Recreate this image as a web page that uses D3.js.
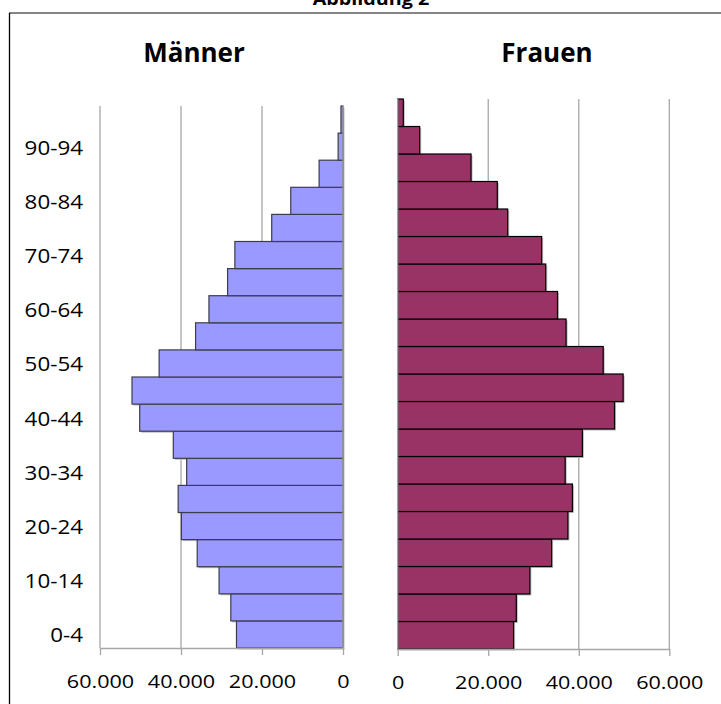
<!DOCTYPE html>
<html>
<head>
<meta charset="utf-8">
<script src="https://cdn.jsdelivr.net/npm/d3@7"></script>
<style>
  html, body { margin: 0; padding: 0; background: #fff; }
  svg { display: block; font-family: "Open Sans", "Noto Sans", sans-serif; }
</style>
</head>
<body>
<svg id="chart" width="721" height="704"></svg>
<script>
// Altersgruppen von unten nach oben
const ageGroups = ["0-4","5-9","10-14","15-19","20-24","25-29","30-34","35-39","40-44","45-49",
                   "50-54","55-59","60-64","65-69","70-74","75-79","80-84","85-89","90-94","95+"];
// Bevölkerung je Altersgruppe
const maenner = [26300, 27700, 30600, 36000, 39900, 40700, 38600, 41900, 50200, 52100,
                 45400, 36400, 33100, 28500, 26700, 17600, 12900, 5900, 1200, 500];
const frauen  = [25600, 26200, 29200, 34000, 37600, 38600, 37000, 40800, 47900, 49800,
                 45400, 37200, 35300, 32700, 31800, 24300, 22000, 16200, 4860, 1240];
// Beschriftete Altersgruppen und Achsenwerte
const shownAgeLabels = ["0-4","10-14","20-24","30-34","40-44","50-54","60-64","70-74","80-84","90-94"];
const xTicks = [0, 20000, 40000, 60000];
const panelTitles = ["Männer", "Frauen"];
const figureTitle = "Abbildung 2";

const de = d3.formatLocale({decimal: ",", thousands: ".", grouping: [3], currency: ["", " €"]});
const fmt = de.format(",");

const svg = d3.select("#chart");
const gridColor = "#a6a6a6";
const stretch = 1.16;

// Rahmen
svg.append("line").attr("x1", 9).attr("x2", 721).attr("y1", 13).attr("y2", 13)
  .attr("stroke", "#858585").attr("stroke-width", 2);
svg.append("line").attr("x1", 9.5).attr("x2", 9.5).attr("y1", 13).attr("y2", 704)
  .attr("stroke", "#000").attr("stroke-width", 1.3);

svg.append("text").attr("transform", `translate(371,5) scale(${stretch},1)`)
  .attr("text-anchor", "middle").attr("font-weight", "bold").attr("font-size", 17)
  .text(figureTitle);

// Skalen
const yOrder = ageGroups.slice().reverse();
const yL = d3.scaleBand().domain(yOrder).range([106, 648]);
const yR = d3.scaleBand().domain(yOrder).range([99, 649]);
const xL = d3.scaleLinear().domain([0, 60000]).range([343, 100]);
const xR = d3.scaleLinear().domain([0, 60000]).range([397.7, 669.3]);

function panel(x, y, values, fill, stroke, top, bottom, title, titleX) {
  const g = svg.append("g");
  // Gitterlinien
  g.selectAll(".grid").data(xTicks.filter(d => d > 0)).join("line")
    .attr("x1", d => x(d)).attr("x2", d => x(d))
    .attr("y1", top).attr("y2", bottom)
    .attr("stroke", gridColor).attr("stroke-width", 1.3);
  // Balken mit Schatten
  const rows = ageGroups.map((a, i) => ({a, v: values[i]}));
  const x0 = x(0);
  g.selectAll(".shadow").data(rows).join("rect")
    .attr("x", d => Math.min(x0, x(d.v)) + 1.5)
    .attr("y", d => y(d.a) + 1.5)
    .attr("width", d => Math.abs(x(d.v) - x0))
    .attr("height", y.bandwidth())
    .attr("fill", "#bdbdbd");
  g.selectAll(".bar").data(rows).join("rect")
    .attr("x", d => Math.min(x0, x(d.v)))
    .attr("y", d => y(d.a))
    .attr("width", d => Math.abs(x(d.v) - x0))
    .attr("height", y.bandwidth())
    .attr("fill", fill).attr("stroke", stroke).attr("stroke-width", 1.2);
  // vertikale Nulllinie
  g.append("line").attr("x1", x0).attr("x2", x0).attr("y1", top).attr("y2", bottom)
    .attr("stroke", gridColor).attr("stroke-width", 1.3);
  // x-Achse
  const ax = g.append("g").attr("transform", `translate(0,${bottom})`)
    .call(d3.axisBottom(x).tickValues(xTicks).tickFormat(fmt).tickSize(7).tickSizeOuter(0).tickPadding(20));
  ax.select(".domain").attr("stroke", gridColor).attr("stroke-width", 1.3);
  ax.selectAll(".tick line").attr("stroke", gridColor).attr("stroke-width", 1.3);
  ax.selectAll(".tick text")
    .attr("font-family", "'Open Sans', sans-serif").attr("font-size", 18.6).attr("fill", "#000")
    .attr("transform", `scale(${stretch},1)`);
  // Titel
  svg.append("text").attr("transform", `translate(${titleX},62)`)
    .attr("text-anchor", "middle").attr("font-weight", "bold").attr("font-size", 26)
    .text(title);
}

panel(xL, yL, maenner, "#9999ff", "#3c3c4c", 106, 648, panelTitles[0], 194);
panel(xR, yR, frauen, "#993366", "#000", 99, 649, panelTitles[1], 547);

// Altersgruppen-Beschriftung
const ay = svg.append("g").attr("transform", "translate(83,0)")
  .call(d3.axisLeft(yL).tickValues(shownAgeLabels).tickSize(0).tickPadding(0));
ay.select(".domain").remove();
ay.selectAll(".tick text")
  .attr("font-family", "'Open Sans', sans-serif").attr("font-size", 20).attr("fill", "#000")
  .attr("dy", "0.4em").attr("transform", `scale(1.12,1)`);
</script>
</body>
</html>
